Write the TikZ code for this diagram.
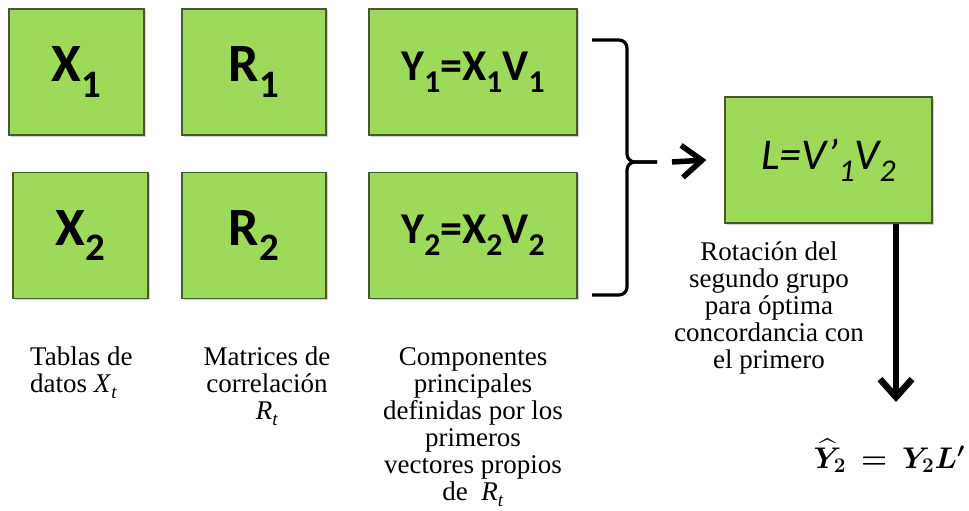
\documentclass[tikz,border=0pt]{standalone}
\usepackage{fontspec}
\usepackage{amsmath,bm}
\setmainfont{Liberation Serif}
\newfontfamily\boxfont{Carlito}
\usetikzlibrary{arrows.meta,shadows}
\definecolor{boxgreen}{RGB}{158,218,90}
\definecolor{boxedge}{RGB}{70,90,45}
\newcommand{\mysb}[1]{\raisebox{-0.28em}{\scalebox{0.72}{#1}}}
\newcommand{\itsub}[2]{\textit{#1}\raisebox{-0.22em}{\scalebox{0.7}{\textit{#2}}}}
\tikzset{
  gbox/.style={draw=boxedge, line width=1.2pt, fill=boxgreen, drop shadow={shadow xshift=1.5pt, shadow yshift=-1.5pt, opacity=0.35}, inner sep=0pt, minimum height=126pt},
  bigl/.style={font=\boxfont\bfseries\fontsize{54}{54}\selectfont},
  midl/.style={font=\boxfont\bfseries\fontsize{44}{44}\selectfont},
  captxt/.style={font=\fontsize{27}{27}\selectfont, align=center, inner sep=0pt},
  harrow/.style={line width=5.5pt, -{Straight Barb[length=20pt,width=32pt]}},
  varrow/.style={line width=6.5pt, -{Straight Barb[length=18pt,width=32pt]}},
  brace/.style={line width=3.2pt, rounded corners=8pt}
}
\begin{document}
\begin{tikzpicture}[x=1pt,y=-1pt]
\useasboundingbox (0,0) rectangle (969,511);
\node[gbox, minimum width=135pt, bigl] (x1) at (76.5,72) {X\mysb{1}};
\node[gbox, minimum width=144pt, bigl] (r1) at (254,72) {R\mysb{1}};
\node[gbox, minimum width=135pt, bigl] (x2) at (80.5,235.5) {X\mysb{2}};
\node[gbox, minimum width=144pt, bigl] (r2) at (254,235.5) {R\mysb{2}};
\node[gbox, minimum width=208pt, midl] (y1) at (473,72) {Y\mysb{1}=X\mysb{1}V\mysb{1}};
\node[gbox, minimum width=208pt, midl] (y2) at (473,235.5) {Y\mysb{2}=X\mysb{2}V\mysb{2}};
\node[gbox, minimum width=207pt, font=\boxfont\itshape\fontsize{44}{44}\selectfont] (L) at (828.5,160) {L=V’\mysb{1}V\mysb{2}};
% brace
\coordinate (bt) at (592,40);
\coordinate (bb) at (592,295);
\coordinate (bm) at (627,162);
\coordinate (tip) at (657,162);
\draw[brace] (bt) -| (bm) -- (tip);
\draw[brace] (bb) -| (bm) -- (tip);
\coordinate (astart) at (672,162);
\draw[harrow] (astart) -- ([xshift=-18pt]L.west);
% vertical arrow
\coordinate (vend) at (896,402);
\draw[varrow] (L.south -| vend) -- (vend);
% captions
\node[captxt, align=left, anchor=north west] (c1) at (30,347) {Tablas de\\datos \itsub{X}{t}};
\node[captxt, anchor=north] (c2) at (267,347) {Matrices de\\correlación\\\itsub{R}{t}};
\node[captxt, anchor=north] (c3) at (473,347) {Componentes\\principales\\definidas por los\\primeros\\vectores propios\\de \ \itsub{R}{t}};
\node[captxt, anchor=north] (c4) at (769,242) {Rotación del\\segundo grupo\\para óptima\\concordancia con\\el primero};
\node[anchor=base east, inner sep=0pt, font=\fontsize{24}{24}\selectfont] (res) at (965,468) {\scalebox{1.2}{$\thickmuskip=9mu plus 2mu\bm{\widehat{Y}_2 = Y_2 L'}$}};
\end{tikzpicture}
\end{document}
